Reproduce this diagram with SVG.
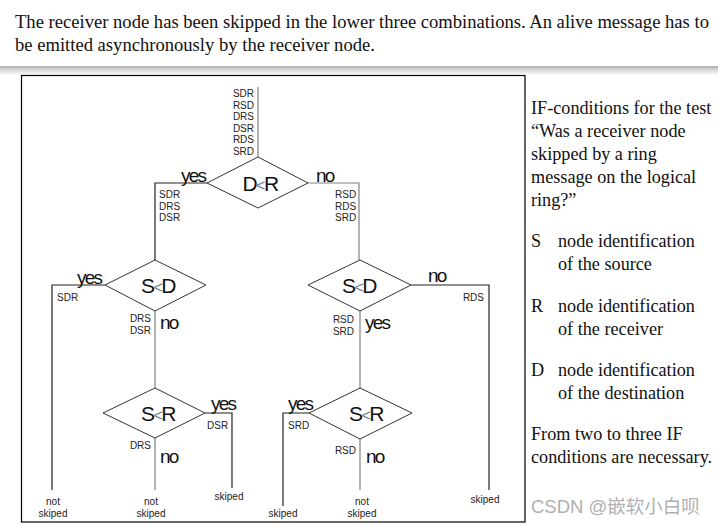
<svg xmlns="http://www.w3.org/2000/svg" width="718" height="526" viewBox="0 0 718 526">
<defs>
<linearGradient id="sh" x1="0" y1="0" x2="0" y2="1">
<stop offset="0" stop-color="#c8c8c8"/>
<stop offset="1" stop-color="#ffffff"/>
</linearGradient>
</defs>
<style>
.hd{font-family:"Liberation Serif",serif;font-size:18.6px;fill:#111}
.rt{font-family:"Liberation Serif",serif;font-size:18.2px;fill:#111}
.sm{font-family:"Liberation Sans",Arial,sans-serif;font-size:10px;fill:#222}
.big{font-family:"Liberation Sans",Arial,sans-serif;font-size:19px;fill:#111;letter-spacing:-1.8px}
.dm{font-family:"Liberation Sans",Arial,sans-serif;font-size:21px;fill:#111;letter-spacing:-1.5px;text-anchor:middle}
.lt{fill:#6a7a90;font-size:16px}
.dia{fill:#fff;stroke:#333;stroke-width:1}
.ln{fill:none;stroke:#808080;stroke-width:1.2}
.lk{fill:none;stroke:#222;stroke-width:1.2}
.wm{font-family:"Liberation Sans","Noto Sans CJK SC",sans-serif;font-size:18.5px;fill:#b0b0b0}
</style>
<rect x="0" y="0" width="718" height="526" fill="#fff"/>
<text class="hd" x="15" y="28">The receiver node has been skipped in the lower three combinations. An alive message has to</text>
<text class="hd" x="15" y="51">be emitted asynchronously by the receiver node.</text>
<rect x="0" y="66" width="718" height="2" fill="#b8b8b8"/>
<rect x="0" y="68" width="718" height="7" fill="url(#sh)"/>
<rect x="21.5" y="75.5" width="503.5" height="446.5" fill="#fff" stroke="#000" stroke-width="1.2"/>
<g id="connectors">
<path class="ln" d="M258,87 V157"/>
<path class="lk" d="M207,183 H155 V260"/>
<path class="ln" d="M308,183 H359 V260"/>
<path class="lk" d="M105,285 H52 V490"/>
<path class="ln" d="M155,311 V388"/>
<path class="lk" d="M411,285 H489 V490"/>
<path class="ln" d="M360,311 V388"/>
<path class="lk" d="M205,413 H232 V488"/>
<path class="ln" d="M155,438 V490"/>
<path class="lk" d="M309,413 H283 V506"/>
<path class="ln" d="M360,439 V490"/>
</g>
<g id="node-top">
<text class="sm" text-anchor="end" x="254" y="97">SDR</text>
<text class="sm" text-anchor="end" x="254" y="108.5">RSD</text>
<text class="sm" text-anchor="end" x="254" y="120">DRS</text>
<text class="sm" text-anchor="end" x="254" y="131.5">DSR</text>
<text class="sm" text-anchor="end" x="254" y="143">RDS</text>
<text class="sm" text-anchor="end" x="254" y="154.5">SRD</text>
</g>
<g id="node-DR">
<polygon class="dia" points="258,157 308,183 258,208 207,183"/>
<text class="dm" x="260" y="191">D<tspan class="lt">&lt;</tspan>R</text>
<text class="big" x="181" y="182">yes</text>
<text class="big" x="316" y="182">no</text>
<text class="sm" x="159" y="198">SDR</text>
<text class="sm" x="159" y="209.5">DRS</text>
<text class="sm" x="159" y="221">DSR</text>
<text class="sm" x="335" y="198">RSD</text>
<text class="sm" x="335" y="209.5">RDS</text>
<text class="sm" x="335" y="221">SRD</text>
</g>
<g id="node-SD-left">
<polygon class="dia" points="155,260 206,285 155,311 105,285"/>
<text class="dm" x="158" y="293">S<tspan class="lt">&lt;</tspan>D</text>
<text class="big" x="77" y="284">yes</text>
<text class="sm" x="57" y="301">SDR</text>
<text class="sm" text-anchor="end" x="151" y="322">DRS</text>
<text class="sm" text-anchor="end" x="151" y="333.5">DSR</text>
<text class="big" x="160" y="329">no</text>
</g>
<g id="node-SD-right">
<polygon class="dia" points="360,260 411,285 360,311 308,285"/>
<text class="dm" x="359" y="293">S<tspan class="lt">&lt;</tspan>D</text>
<text class="big" x="428" y="282">no</text>
<text class="sm" text-anchor="end" x="484" y="301">RDS</text>
<text class="sm" text-anchor="end" x="354" y="323">RSD</text>
<text class="sm" text-anchor="end" x="354" y="334.5">SRD</text>
<text class="big" x="365" y="329">yes</text>
</g>
<g id="node-SR-left">
<polygon class="dia" points="155,388 205,413 155,438 103,413"/>
<text class="dm" x="158" y="421">S<tspan class="lt">&lt;</tspan>R</text>
<text class="big" x="211" y="410">yes</text>
<text class="sm" x="207" y="429">DSR</text>
<text class="sm" text-anchor="end" x="151" y="449">DRS</text>
<text class="big" x="160" y="463">no</text>
</g>
<g id="node-SR-right">
<polygon class="dia" points="360,388 412,413 360,439 309,413"/>
<text class="dm" x="366" y="421">S<tspan class="lt">&lt;</tspan>R</text>
<text class="big" x="288" y="410">yes</text>
<text class="sm" x="288" y="429">SRD</text>
<text class="sm" text-anchor="end" x="356" y="454">RSD</text>
<text class="big" x="366" y="463">no</text>
</g>
<g id="leaves">
<text class="sm" text-anchor="middle" x="53" y="505">not</text>
<text class="sm" text-anchor="middle" x="53" y="517">skiped</text>
<text class="sm" text-anchor="middle" x="151" y="505">not</text>
<text class="sm" text-anchor="middle" x="151" y="517">skiped</text>
<text class="sm" text-anchor="middle" x="229" y="500">skiped</text>
<text class="sm" text-anchor="middle" x="283" y="517">skiped</text>
<text class="sm" text-anchor="middle" x="362" y="505">not</text>
<text class="sm" text-anchor="middle" x="362" y="517">skiped</text>
<text class="sm" text-anchor="middle" x="485" y="503">skiped</text>
</g>
<g id="legend">
<text class="rt" x="531" y="114">IF-conditions for the test</text>
<text class="rt" x="531" y="137">“Was a receiver node</text>
<text class="rt" x="531" y="160">skipped by a ring</text>
<text class="rt" x="531" y="183">message on the logical</text>
<text class="rt" x="531" y="206">ring?”</text>
<text class="rt" x="531" y="247">S</text>
<text class="rt" x="558" y="247">node identification</text>
<text class="rt" x="558" y="270">of the source</text>
<text class="rt" x="531" y="312">R</text>
<text class="rt" x="558" y="312">node identification</text>
<text class="rt" x="558" y="335">of the receiver</text>
<text class="rt" x="531" y="376">D</text>
<text class="rt" x="558" y="376">node identification</text>
<text class="rt" x="558" y="399">of the destination</text>
<text class="rt" x="531" y="440">From two to three IF</text>
<text class="rt" x="531" y="463">conditions are necessary.</text>
</g>
<text class="wm" x="531" y="513">CSDN @嵌软小白呗</text>
</svg>
